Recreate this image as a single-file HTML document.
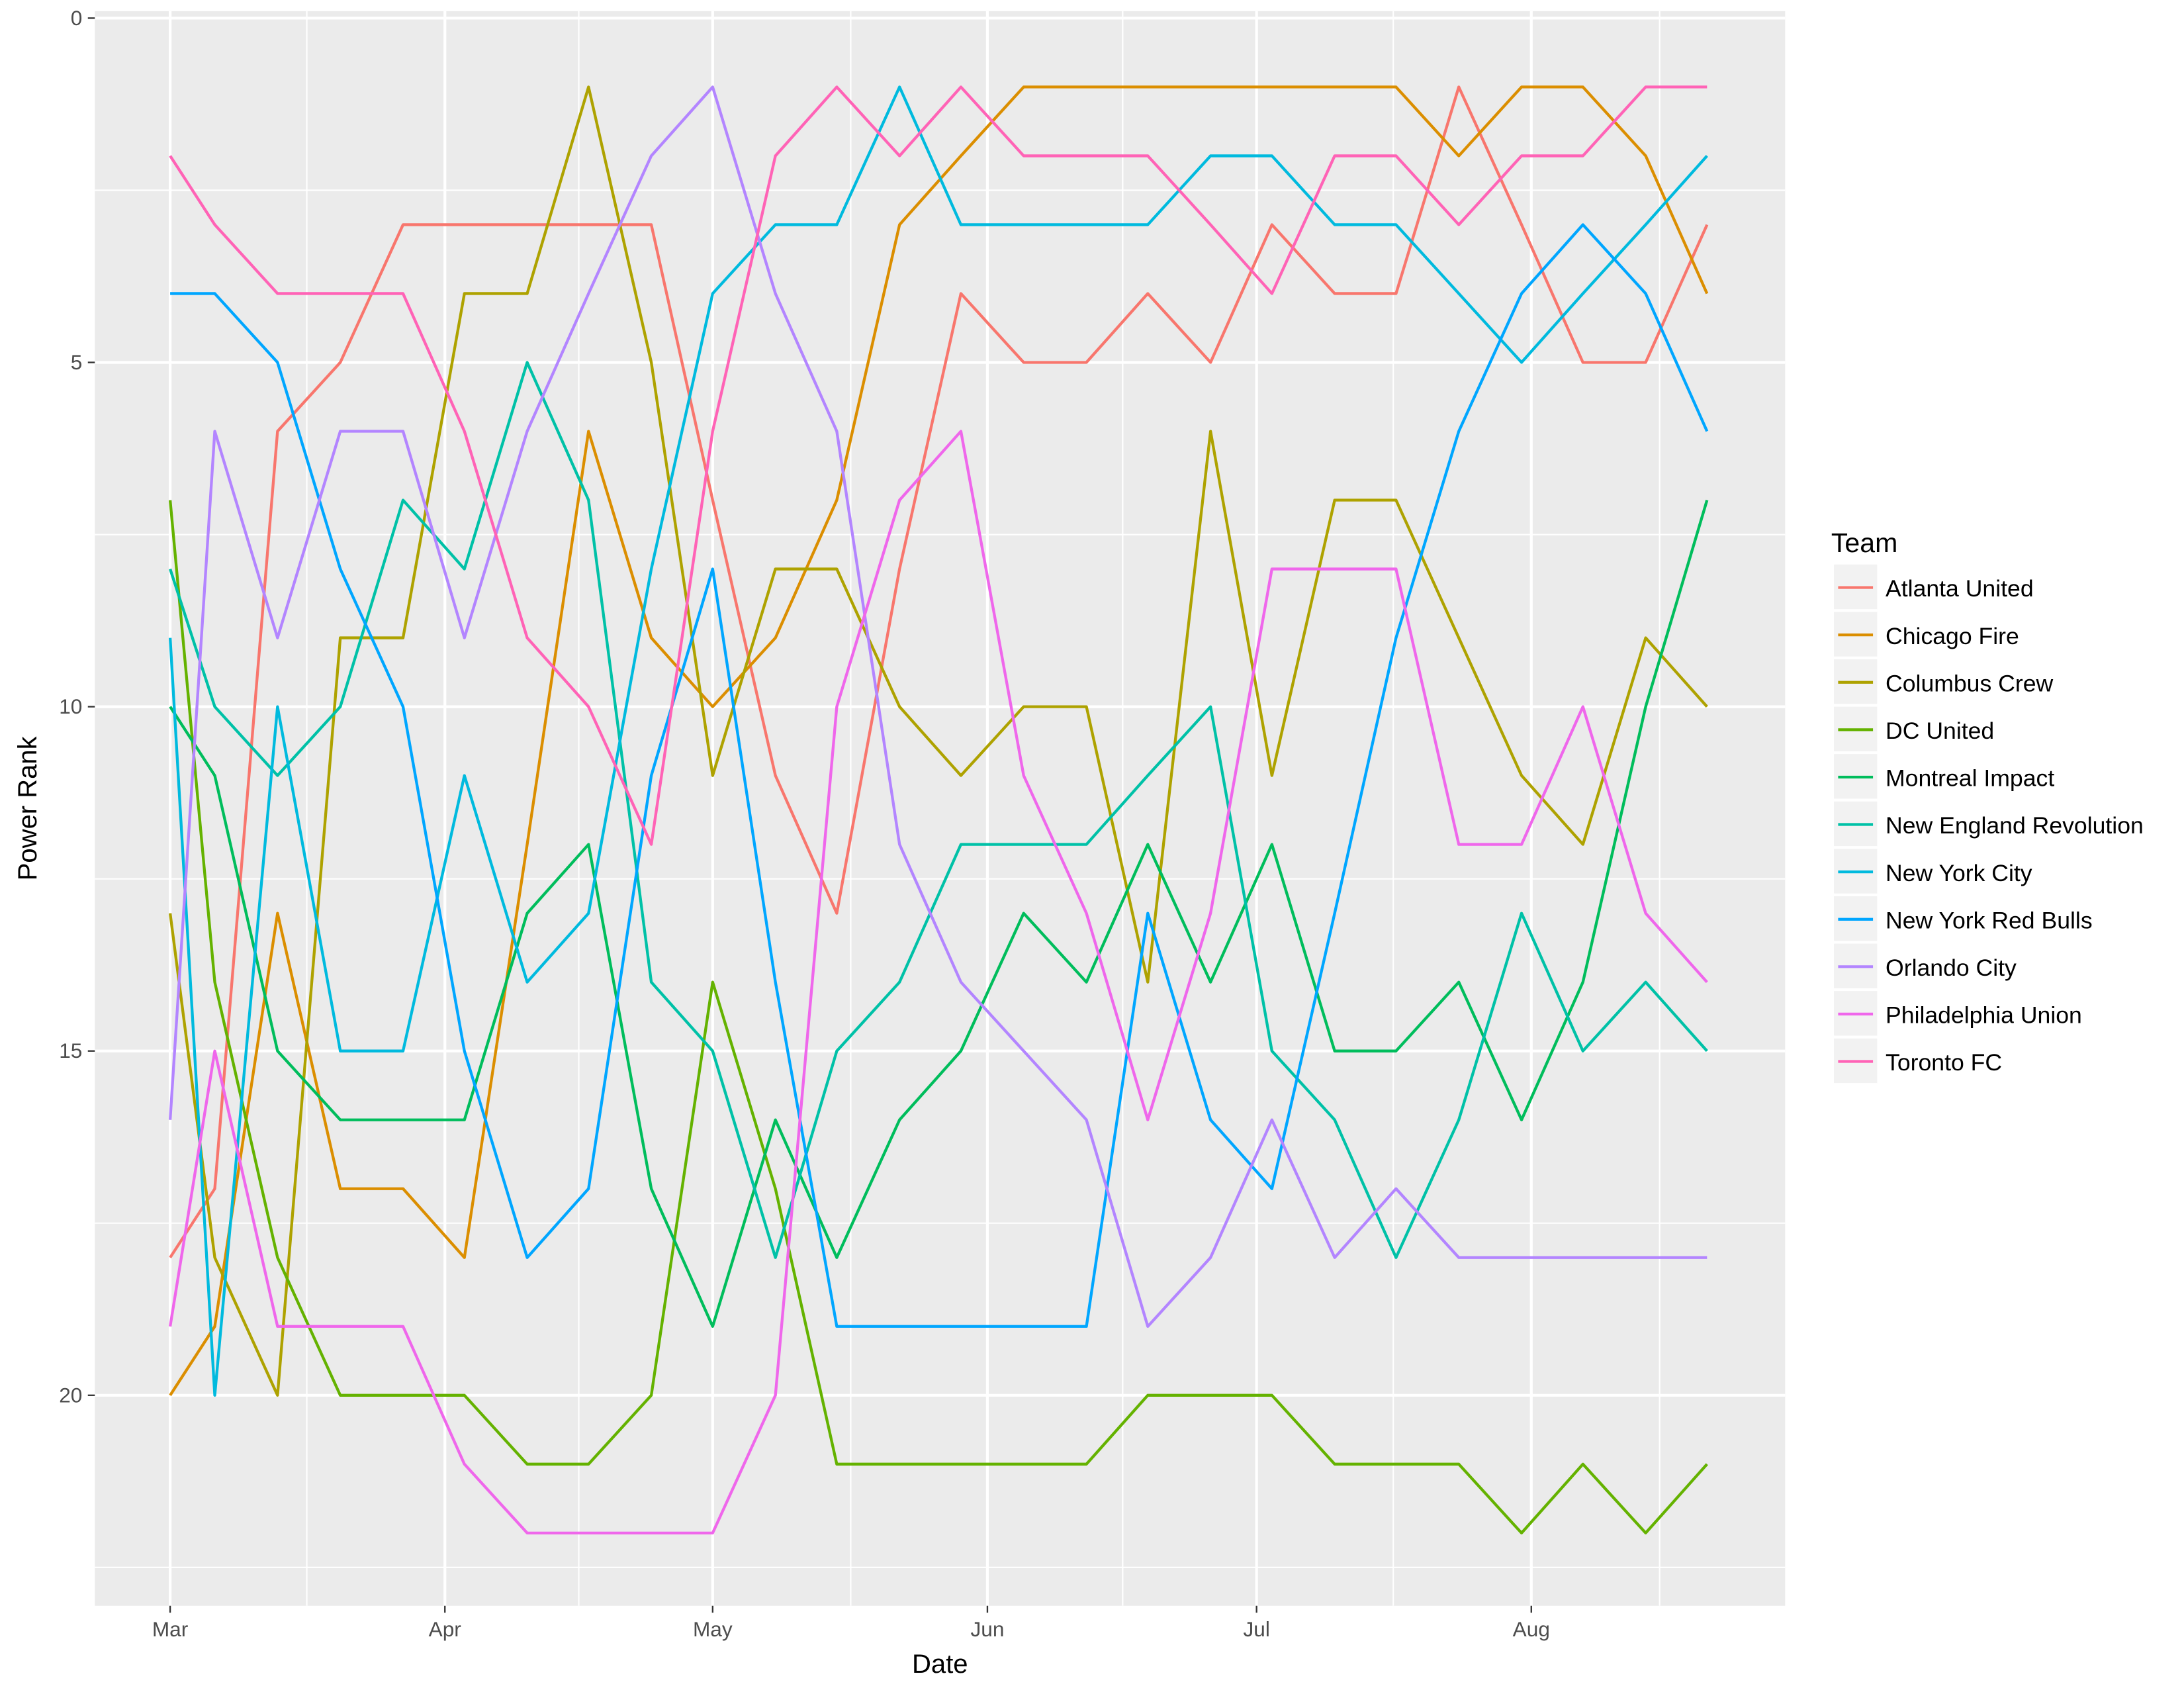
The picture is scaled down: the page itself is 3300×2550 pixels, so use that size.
<!DOCTYPE html>
<html><head><meta charset="utf-8"><style>
html,body{margin:0;padding:0;background:#fff;}
svg{display:block;}
text{font-family:"Liberation Sans",sans-serif;}
</style></head><body>
<svg width="3300" height="2550" viewBox="0 0 1566 1211" preserveAspectRatio="none">
<rect x="0" y="0" width="1566" height="1211" fill="#fff"/>
<rect x="68" y="8" width="1212" height="1144" fill="#EBEBEB"/>
<g stroke="#fff" stroke-width="1">
<line x1="68" x2="1280" y1="136.5" y2="136.5"/><line x1="68" x2="1280" y1="383.5" y2="383.5"/>
<line x1="68" x2="1280" y1="630.5" y2="630.5"/><line x1="68" x2="1280" y1="877.5" y2="877.5"/>
<line x1="68" x2="1280" y1="1124.5" y2="1124.5"/>
<line y1="8" y2="1152" x1="220" x2="220"/><line y1="8" y2="1152" x1="415" x2="415"/>
<line y1="8" y2="1152" x1="610" x2="610"/><line y1="8" y2="1152" x1="805" x2="805"/>
<line y1="8" y2="1152" x1="999" x2="999"/><line y1="8" y2="1152" x1="1190" x2="1190"/>
</g>
<g stroke="#fff" stroke-width="2">
<line x1="68" x2="1280" y1="13" y2="13"/><line x1="68" x2="1280" y1="260" y2="260"/>
<line x1="68" x2="1280" y1="507" y2="507"/><line x1="68" x2="1280" y1="754" y2="754"/>
<line x1="68" x2="1280" y1="1001" y2="1001"/>
<line y1="8" y2="1152" x1="122" x2="122"/><line y1="8" y2="1152" x1="319" x2="319"/>
<line y1="8" y2="1152" x1="511" x2="511"/><line y1="8" y2="1152" x1="708" x2="708"/>
<line y1="8" y2="1152" x1="901" x2="901"/><line y1="8" y2="1152" x1="1098" x2="1098"/>
</g>
<g transform="translate(0,13) scale(1,49.4)" fill="none" stroke-width="4.3" stroke-linejoin="round">
<polyline vector-effect="non-scaling-stroke" stroke="#F8766D" points="122,18 154,17 199,6 244,5 289,3 333,3 378,3 422,3 467,3 511,7 556,11 600,13 645,8 689,4 734,5 779,5 823,4 868,5 912,3 957,4 1001,4 1046,1 1091,3 1135,5 1180,5 1224,3"/>
<polyline vector-effect="non-scaling-stroke" stroke="#DB8E00" points="122,20 154,19 199,13 244,17 289,17 333,18 378,12 422,6 467,9 511,10 556,9 600,7 645,3 689,2 734,1 779,1 823,1 868,1 912,1 957,1 1001,1 1046,2 1091,1 1135,1 1180,2 1224,4"/>
<polyline vector-effect="non-scaling-stroke" stroke="#AEA200" points="122,13 154,18 199,20 244,9 289,9 333,4 378,4 422,1 467,5 511,11 556,8 600,8 645,10 689,11 734,10 779,10 823,14 868,6 912,11 957,7 1001,7 1046,9 1091,11 1135,12 1180,9 1224,10"/>
<polyline vector-effect="non-scaling-stroke" stroke="#64B200" points="122,7 154,14 199,18 244,20 289,20 333,20 378,21 422,21 467,20 511,14 556,17 600,21 645,21 689,21 734,21 779,21 823,20 868,20 912,20 957,21 1001,21 1046,21 1091,22 1135,21 1180,22 1224,21"/>
<polyline vector-effect="non-scaling-stroke" stroke="#00BD5C" points="122,10 154,11 199,15 244,16 289,16 333,16 378,13 422,12 467,17 511,19 556,16 600,18 645,16 689,15 734,13 779,14 823,12 868,14 912,12 957,15 1001,15 1046,14 1091,16 1135,14 1180,10 1224,7"/>
<polyline vector-effect="non-scaling-stroke" stroke="#00C1A7" points="122,8 154,10 199,11 244,10 289,7 333,8 378,5 422,7 467,14 511,15 556,18 600,15 645,14 689,12 734,12 779,12 823,11 868,10 912,15 957,16 1001,18 1046,16 1091,13 1135,15 1180,14 1224,15"/>
<polyline vector-effect="non-scaling-stroke" stroke="#00BADE" points="122,9 154,20 199,10 244,15 289,15 333,11 378,14 422,13 467,8 511,4 556,3 600,3 645,1 689,3 734,3 779,3 823,3 868,2 912,2 957,3 1001,3 1046,4 1091,5 1135,4 1180,3 1224,2"/>
<polyline vector-effect="non-scaling-stroke" stroke="#00A6FF" points="122,4 154,4 199,5 244,8 289,10 333,15 378,18 422,17 467,11 511,8 556,14 600,19 645,19 689,19 734,19 779,19 823,13 868,16 912,17 957,13 1001,9 1046,6 1091,4 1135,3 1180,4 1224,6"/>
<polyline vector-effect="non-scaling-stroke" stroke="#B385FF" points="122,16 154,6 199,9 244,6 289,6 333,9 378,6 422,4 467,2 511,1 556,4 600,6 645,12 689,14 734,15 779,16 823,19 868,18 912,16 957,18 1001,17 1046,18 1091,18 1135,18 1180,18 1224,18"/>
<polyline vector-effect="non-scaling-stroke" stroke="#EF67EB" points="122,19 154,15 199,19 244,19 289,19 333,21 378,22 422,22 467,22 511,22 556,20 600,10 645,7 689,6 734,11 779,13 823,16 868,13 912,8 957,8 1001,8 1046,12 1091,12 1135,10 1180,13 1224,14"/>
<polyline vector-effect="non-scaling-stroke" stroke="#FF63B6" points="122,2 154,3 199,4 244,4 289,4 333,6 378,9 422,10 467,12 511,6 556,2 600,1 645,2 689,1 734,2 779,2 823,2 868,3 912,4 957,2 1001,2 1046,3 1091,2 1135,2 1180,1 1224,1"/>
</g>
<g stroke="#333" stroke-width="1.1">
<line x1="63" x2="68" y1="13" y2="13"/><line x1="63" x2="68" y1="260" y2="260"/><line x1="63" x2="68" y1="507" y2="507"/><line x1="63" x2="68" y1="754" y2="754"/><line x1="63" x2="68" y1="1001" y2="1001"/>
<line y1="1152" y2="1157" x1="122" x2="122"/><line y1="1152" y2="1157" x1="319" x2="319"/><line y1="1152" y2="1157" x1="511" x2="511"/><line y1="1152" y2="1157" x1="708" x2="708"/><line y1="1152" y2="1157" x1="901" x2="901"/><line y1="1152" y2="1157" x1="1098" x2="1098"/>
</g>
<g fill="#4D4D4D" font-size="15" text-anchor="end">
<text x="59" y="18">0</text><text x="59" y="265">5</text><text x="59" y="512">10</text><text x="59" y="759">15</text><text x="59" y="1006">20</text>
</g>
<g fill="#4D4D4D" font-size="15" text-anchor="middle">
<text x="122" y="1174">Mar</text><text x="319" y="1174">Apr</text><text x="511" y="1174">May</text><text x="708" y="1174">Jun</text><text x="901" y="1174">Jul</text><text x="1098" y="1174">Aug</text>
</g>
<text x="674" y="1200" font-size="19" text-anchor="middle" fill="#000">Date</text>
<text transform="translate(26,580) rotate(-90)" font-size="19" text-anchor="middle" fill="#000">Power Rank</text>
<text x="1313" y="396" font-size="19.5" fill="#000">Team</text>
<g font-size="16.9" fill="#000">
<rect x="1315" y="405" width="31" height="32" fill="#F2F2F2"/><line x1="1318" x2="1343" y1="421.5" y2="421.5" stroke="#F8766D" stroke-width="2"/><text x="1352" y="428">Atlanta United</text>
<rect x="1315" y="439" width="31" height="32" fill="#F2F2F2"/><line x1="1318" x2="1343" y1="455.5" y2="455.5" stroke="#DB8E00" stroke-width="2"/><text x="1352" y="462">Chicago Fire</text>
<rect x="1315" y="473" width="31" height="32" fill="#F2F2F2"/><line x1="1318" x2="1343" y1="489.5" y2="489.5" stroke="#AEA200" stroke-width="2"/><text x="1352" y="496">Columbus Crew</text>
<rect x="1315" y="507" width="31" height="32" fill="#F2F2F2"/><line x1="1318" x2="1343" y1="523.5" y2="523.5" stroke="#64B200" stroke-width="2"/><text x="1352" y="530">DC United</text>
<rect x="1315" y="541" width="31" height="32" fill="#F2F2F2"/><line x1="1318" x2="1343" y1="557.5" y2="557.5" stroke="#00BD5C" stroke-width="2"/><text x="1352" y="564">Montreal Impact</text>
<rect x="1315" y="575" width="31" height="32" fill="#F2F2F2"/><line x1="1318" x2="1343" y1="591.5" y2="591.5" stroke="#00C1A7" stroke-width="2"/><text x="1352" y="598">New England Revolution</text>
<rect x="1315" y="609" width="31" height="32" fill="#F2F2F2"/><line x1="1318" x2="1343" y1="625.5" y2="625.5" stroke="#00BADE" stroke-width="2"/><text x="1352" y="632">New York City</text>
<rect x="1315" y="643" width="31" height="32" fill="#F2F2F2"/><line x1="1318" x2="1343" y1="659.5" y2="659.5" stroke="#00A6FF" stroke-width="2"/><text x="1352" y="666">New York Red Bulls</text>
<rect x="1315" y="677" width="31" height="32" fill="#F2F2F2"/><line x1="1318" x2="1343" y1="693.5" y2="693.5" stroke="#B385FF" stroke-width="2"/><text x="1352" y="700">Orlando City</text>
<rect x="1315" y="711" width="31" height="32" fill="#F2F2F2"/><line x1="1318" x2="1343" y1="727.5" y2="727.5" stroke="#EF67EB" stroke-width="2"/><text x="1352" y="734">Philadelphia Union</text>
<rect x="1315" y="745" width="31" height="32" fill="#F2F2F2"/><line x1="1318" x2="1343" y1="761.5" y2="761.5" stroke="#FF63B6" stroke-width="2"/><text x="1352" y="768">Toronto FC</text>
</g>
</svg>
</body></html>
